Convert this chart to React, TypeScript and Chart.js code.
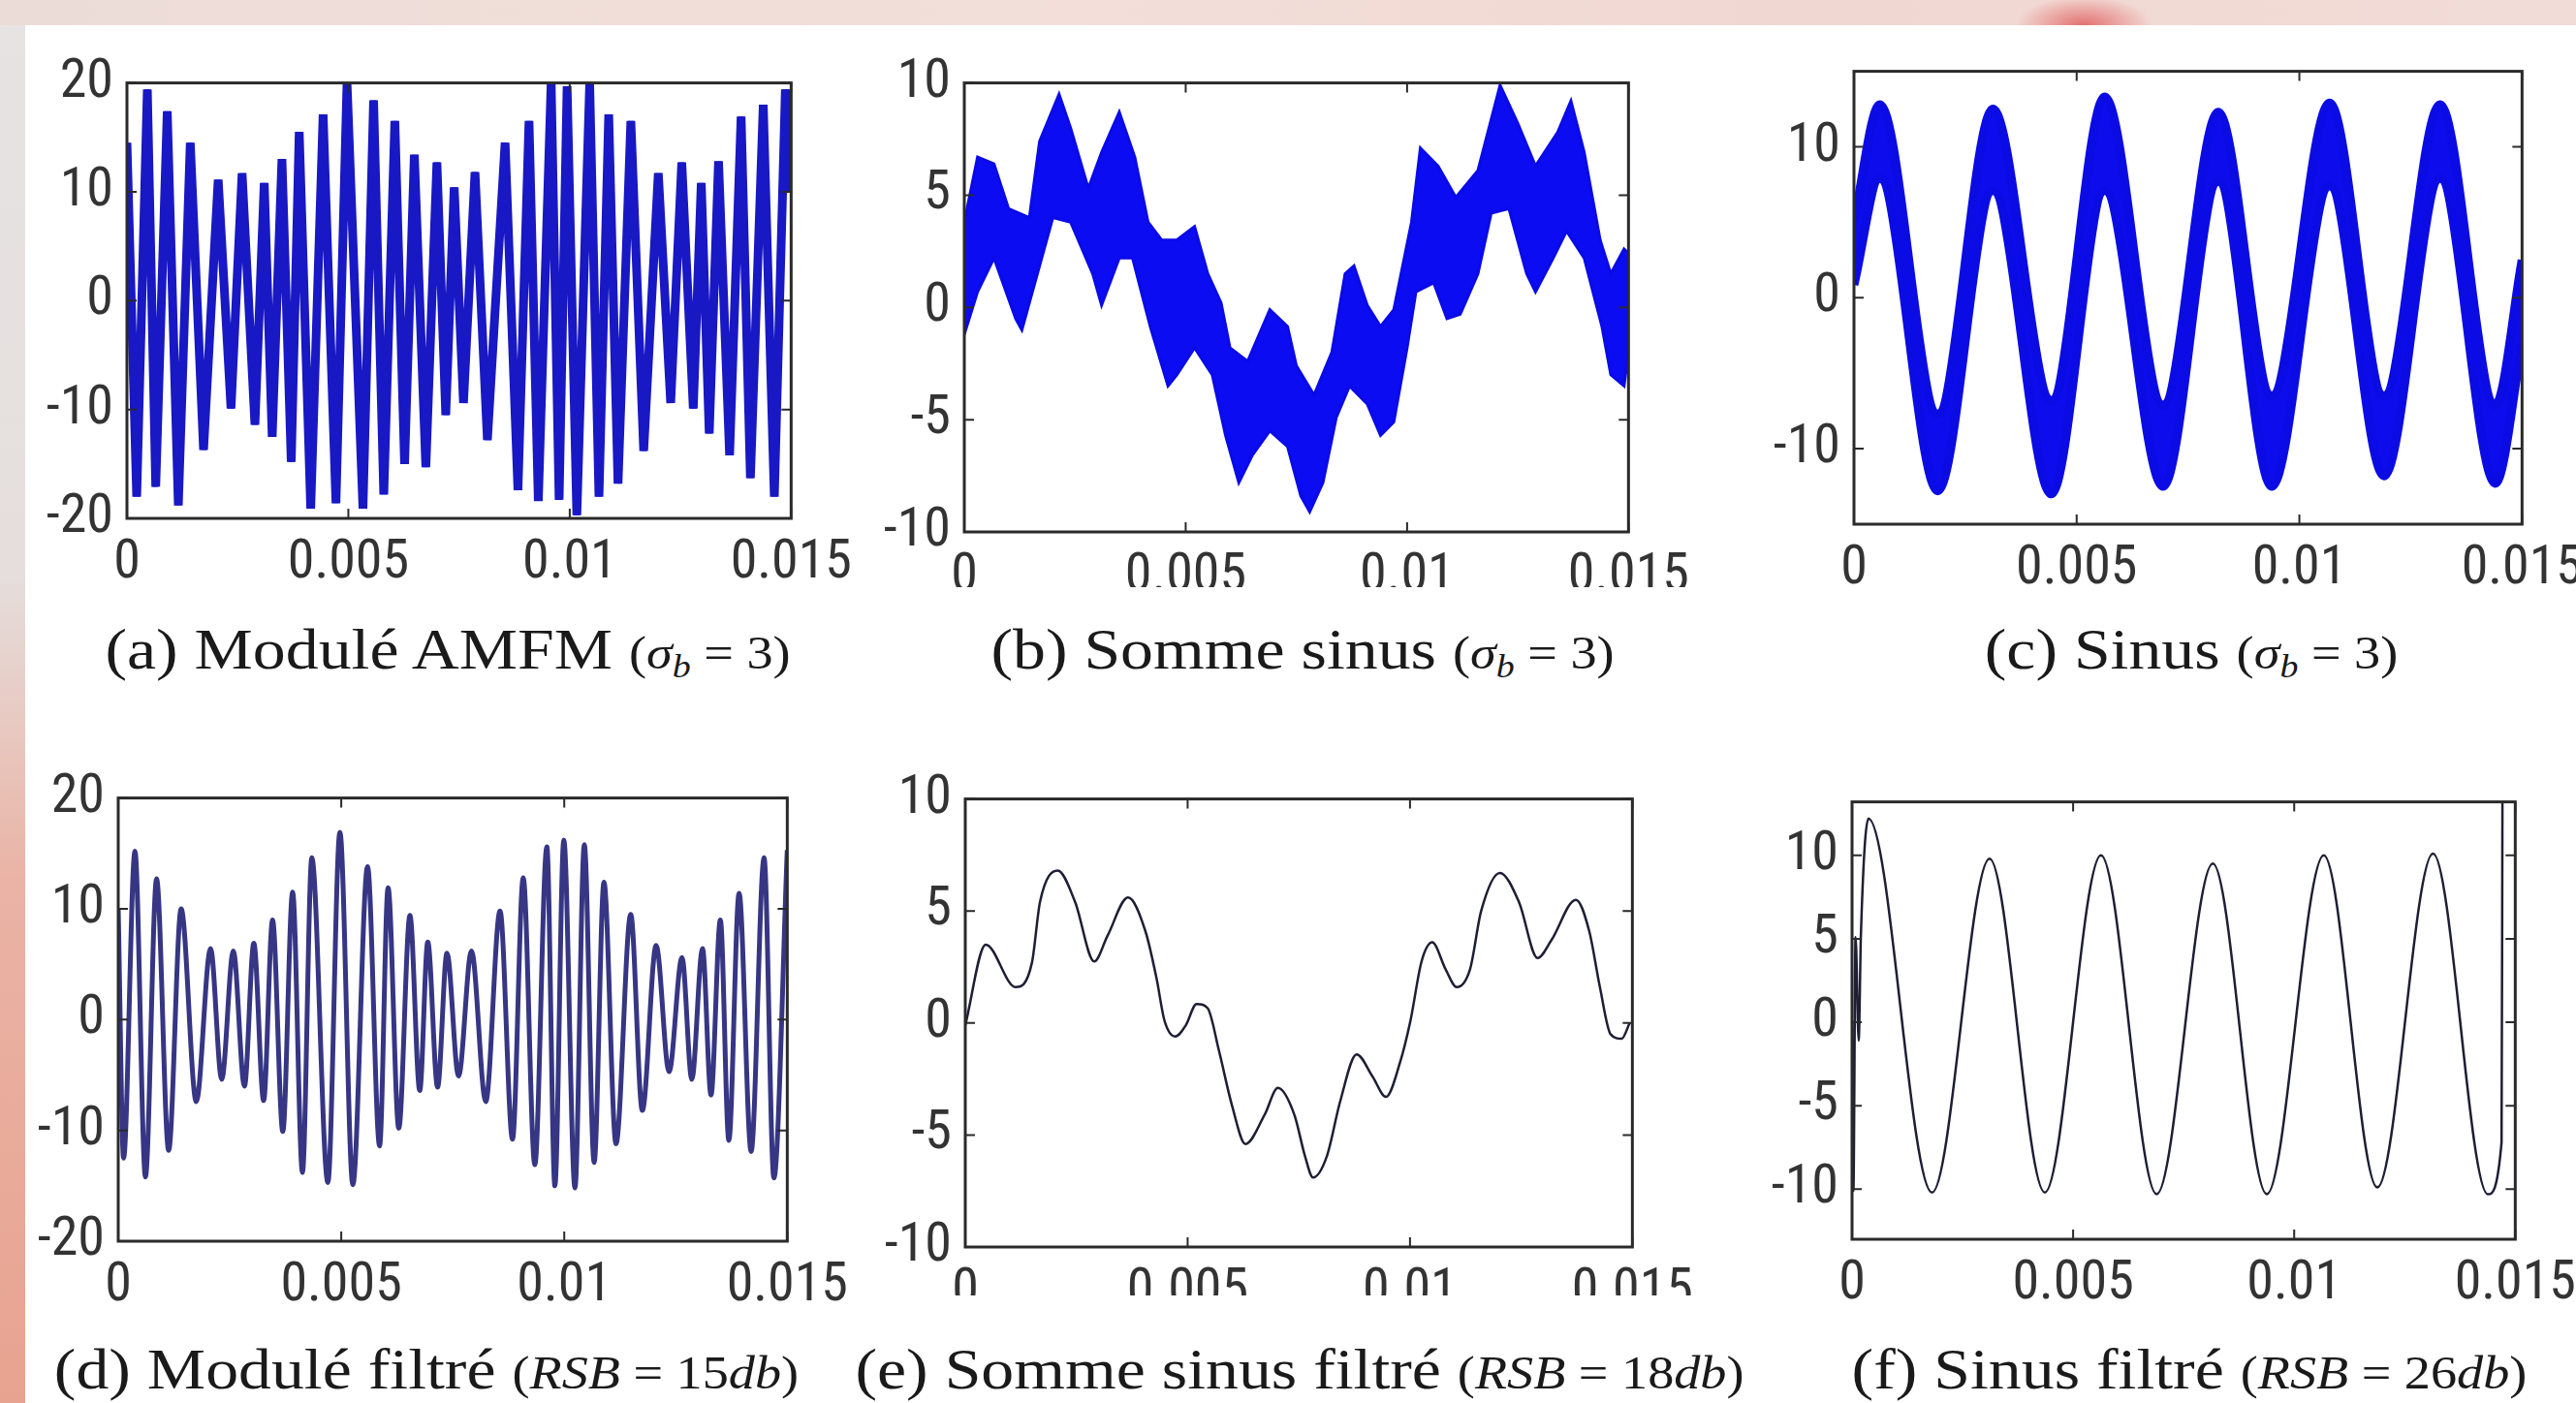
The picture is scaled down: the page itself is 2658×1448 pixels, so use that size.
import React, { useEffect, useRef } from 'react';
import { Chart, registerables } from 'chart.js';

Chart.register(...registerables);

// ---------- shared axis data ----------
const X_TICKS = [0, 0.005, 0.01, 0.015];
const X_TICK_LABELS = ['0', '0.005', '0.01', '0.015'];
const Y_TICKS_20 = [-20, -10, 0, 10, 20];
const Y_TICKS_10 = [-10, -5, 0, 5, 10];
const Y_TICKS_C = [-10, 0, 10];

// ---------- (a) Modulé AMFM (noisy) : time in ms, value ----------
const A_T_MS = [0, 0.22, 0.46, 0.65, 0.91, 1.16, 1.43, 1.73, 2.06, 2.35, 2.6, 2.89, 3.1, 3.28, 3.5, 3.71, 3.89, 4.15, 4.43, 4.72, 4.97, 5.33, 5.57, 5.8, 6.05, 6.27, 6.49, 6.75, 7.0, 7.2, 7.39, 7.6, 7.86, 8.14, 8.54, 8.83, 9.08, 9.29, 9.58, 9.76, 9.94, 10.16, 10.45, 10.66, 10.88, 11.09, 11.38, 11.67, 12.0, 12.28, 12.53, 12.79, 12.97, 13.15, 13.36, 13.61, 13.87, 14.08, 14.37, 14.62, 14.87, 15.0];
const A_VAL = [14.5, -18, 19.4, -17.1, 17.4, -18.8, 14.5, -13.7, 11.1, -9.9, 11.7, -11.4, 10.8, -12.5, 13, -14.8, 15.5, -19.1, 17.1, -18.6, 20, -19.1, 18.4, -17.8, 16.5, -15, 13.4, -15.3, 12.7, -10.5, 10.4, -9.4, 11.8, -12.8, 14.5, -17.4, 16.5, -18.4, 20, -18.3, 19.7, -19.7, 19.9, -18, 17.1, -16.8, 16.5, -13.8, 11.7, -9.4, 12.7, -9.9, 10.8, -12.2, 12.8, -14.2, 16.9, -16.3, 18, -18, 19.4, 10];

// ---------- (b) Somme sinus (noisy band: upper / lower envelopes) ----------
const B_UP_T_MS = [0, 0.3, 0.67, 1.0, 1.47, 1.7, 2.14, 2.4, 2.8, 3.1, 3.5, 3.85, 4.15, 4.46, 4.8, 5.2, 5.5, 5.8, 6.0, 6.4, 6.9, 7.3, 7.5, 7.9, 8.3, 8.6, 8.8, 9.1, 9.4, 9.7, 10.1, 10.3, 10.7, 11.1, 11.6, 12.1, 12.5, 12.9, 13.4, 13.7, 14.0, 14.36, 14.6, 14.9, 15];
const B_UP = [3.8, 6.7, 6.4, 4.4, 4.0, 7.4, 9.5, 8.0, 5.3, 6.9, 8.7, 6.7, 3.8, 3.0, 3.0, 3.6, 1.5, 0.2, -1.8, -2.4, -0.1, -0.85, -2.6, -3.9, -2.0, 1.5, 1.85, 0.1, -0.85, -0.1, 3.8, 7.1, 6.3, 4.9, 6.1, 9.9, 8.2, 6.3, 7.8, 9.2, 6.9, 3.0, 1.5, 2.6, 2.4];
const B_LO_T_MS = [0, 0.3, 0.67, 1.16, 1.3, 1.65, 2.0, 2.4, 2.9, 3.1, 3.5, 3.8, 4.2, 4.6, 4.8, 5.2, 5.6, 5.9, 6.2, 6.5, 6.9, 7.3, 7.6, 7.8, 8.1, 8.4, 8.7, 9.1, 9.4, 9.7, 10.0, 10.2, 10.6, 10.9, 11.2, 11.6, 11.9, 12.3, 12.7, 12.9, 13.3, 13.6, 14.0, 14.4, 14.6, 14.9, 15];
const B_LO = [-1.2, 0.7, 2.2, -0.5, -1.0, 1.5, 4.0, 3.8, 1.5, 0.1, 2.2, 2.2, -0.85, -3.5, -3.0, -1.8, -3.0, -5.7, -7.8, -6.6, -5.5, -6.2, -8.4, -9.1, -7.8, -4.9, -3.5, -4.3, -5.7, -5.1, -1.8, 0.7, 1.1, -0.5, -0.3, 1.5, 4.2, 4.4, 1.5, 0.7, 2.2, 3.4, 2.2, -0.85, -3.0, -3.5, -2.0];

// ---------- (c) Sinus (noisy band) ----------
const C_T_MS = [0, 0.58, 1.88, 3.12, 4.43, 5.63, 6.94, 8.18, 9.38, 10.68, 11.9, 13.16, 14.4, 15];
const C_UP = [5.1, 12.8, -7.7, 12.5, -6.8, 13.3, -7.1, 12.3, -6.5, 12.9, -6.5, 12.8, -7.1, 2.5];
const C_LO = [0.85, 7.9, -12.8, 7.1, -13.0, 7.1, -12.5, 7.7, -12.5, 7.4, -11.8, 7.9, -12.3, -3.1];

// ---------- (d) Modulé filtré ----------
const D_T_MS = [0, 0.12, 0.375, 0.61, 0.86, 1.13, 1.41, 1.75, 2.07, 2.32, 2.58, 2.83, 3.04, 3.26, 3.46, 3.69, 3.91, 4.13, 4.34, 4.7, 4.97, 5.26, 5.59, 5.86, 6.05, 6.29, 6.54, 6.76, 6.94, 7.16, 7.37, 7.63, 7.92, 8.24, 8.56, 8.84, 9.08, 9.34, 9.61, 9.79, 9.99, 10.24, 10.45, 10.67, 10.89, 11.16, 11.49, 11.75, 12.06, 12.35, 12.64, 12.86, 13.1, 13.29, 13.5, 13.69, 13.92, 14.19, 14.48, 14.7, 15.0];
const D_VAL = [10, -12.5, 15.2, -14.2, 12.7, -11.8, 10.0, -7.4, 6.4, -5.4, 6.2, -6.0, 6.9, -7.3, 9.0, -10.1, 11.5, -13.8, 14.6, -14.7, 16.9, -14.9, 13.8, -11.4, 11.9, -9.8, 9.4, -6.4, 7.0, -6.1, 6.0, -5.1, 6.2, -7.4, 9.8, -10.8, 12.8, -13.1, 15.6, -15.0, 16.2, -15.2, 15.8, -12.9, 12.4, -11.2, 9.5, -8.2, 6.7, -4.7, 5.6, -5.4, 6.4, -6.8, 9.0, -10.9, 11.4, -11.9, 14.6, -14.3, 15.3];

// ---------- (e) Somme sinus filtré ----------
const E_T_MS = [0, 0.46, 1.13, 1.5, 1.68, 2.08, 2.47, 2.9, 3.2, 3.66, 4.05, 4.3, 4.48, 4.72, 4.96, 5.2, 5.45, 5.7, 6.0, 6.3, 6.73, 7.03, 7.4, 7.64, 7.82, 8.13, 8.43, 8.8, 9.16, 9.46, 9.77, 10.01, 10.26, 10.5, 10.8, 11.05, 11.35, 11.6, 12.02, 12.45, 12.87, 13.18, 13.73, 14.03, 14.27, 14.51, 14.76, 14.94];
const E_VAL = [-0.1, 3.5, 1.6, 2.7, 5.4, 6.8, 5.4, 2.75, 3.9, 5.6, 4.1, 2.0, 0.1, -0.6, -0.1, 0.85, 0.66, -1.2, -3.7, -5.4, -4.1, -2.9, -4.1, -5.95, -6.9, -5.95, -3.5, -1.4, -2.4, -3.3, -1.8, 0.1, 2.75, 3.6, 2.4, 1.6, 2.4, 5.0, 6.7, 5.4, 2.9, 3.7, 5.5, 4.1, 1.6, -0.5, -0.7, 0];

// ---------- (f) Sinus filtré ----------
const F_T_MS = [0, 0.03, 0.08, 0.15, 0.2, 0.37, 1.81, 3.11, 4.36, 5.63, 6.89, 8.16, 9.38, 10.67, 11.88, 13.14, 14.38, 14.69, 14.71];
const F_VAL = [0.1, -10.1, 5.1, -1.1, 5.2, 12.2, -10.2, 9.8, -10.2, 10.0, -10.3, 9.5, -10.3, 10.0, -9.9, 10.1, -10.3, -7.2, 13.3];

// ---------- captions ----------
const CAPTIONS = [
  { label: '(a) Modulé AMFM', kind: 'sigma', val: '3', cx: 462, cy: 679 },
  { label: '(b) Somme sinus', kind: 'sigma', val: '3', cx: 1344, cy: 679 },
  { label: '(c) Sinus', kind: 'sigma', val: '3', cx: 2261, cy: 679 },
  { label: '(d) Modulé filtré', kind: 'rsb', val: '15', cx: 440, cy: 1415 },
  { label: '(e) Somme sinus filtré', kind: 'rsb', val: '18', cx: 1341, cy: 1415 },
  { label: '(f) Sinus filtré', kind: 'rsb', val: '26', cx: 2259, cy: 1415 },
];

const toPts = (tMs: number[], v: number[]) => tMs.map((t, i) => ({ x: t / 1000, y: v[i] }));

// pick a condensed sans for tick labels if one is installed
function pickTickFont() {
  const ctx = document.createElement('canvas').getContext('2d');
  const probe = '0.005 -10 20';
  const candidates = ['Liberation Sans Narrow', 'Roboto Condensed', 'DejaVu Sans Condensed', 'Arial Narrow'];
  if (ctx) {
    for (const fam of candidates) {
      ctx.font = '56px monospace';
      const w1 = ctx.measureText(probe).width;
      ctx.font = `56px "${fam}", monospace`;
      const w2 = ctx.measureText(probe).width;
      if (Math.abs(w1 - w2) > 1) return { family: `"${fam}", sans-serif`, size: 56 };
    }
  }
  return { family: '"Liberation Sans", Arial, sans-serif', size: 44 };
}

const TICK_COLOR = '#333333';
const Y_W = 130;
const PAD_T = 34;
const PAD_R = 72;

const frameTicks = {
  id: 'frameTicks',
  afterDatasetsDraw(chart: any) {
    const { ctx, chartArea, scales } = chart;
    const { left, right, top, bottom } = chartArea;
    const len = 10;
    ctx.save();
    ctx.strokeStyle = '#2a2a2a';
    ctx.lineWidth = 2;
    ctx.beginPath();
    scales.x.ticks.forEach((t: any) => {
      const px = scales.x.getPixelForValue(t.value);
      ctx.moveTo(px, bottom); ctx.lineTo(px, bottom - len);
      ctx.moveTo(px, top); ctx.lineTo(px, top + len);
    });
    scales.y.ticks.forEach((t: any) => {
      const py = scales.y.getPixelForValue(t.value);
      ctx.moveTo(left, py); ctx.lineTo(left + len, py);
      ctx.moveTo(right, py); ctx.lineTo(right - len, py);
    });
    ctx.stroke();
    ctx.lineWidth = 3;
    ctx.strokeRect(left, top, right - left, bottom - top);
    ctx.restore();
  },
};

type Spec = {
  key: string; L: number; R: number; T: number; B: number; xh: number;
  yMin: number; yMax: number; yTicks: number[]; datasets: any[];
};

const line = (data: any[], color: string, width: number, extra: any = {}) => ({
  data, borderColor: color, backgroundColor: color, borderWidth: width,
  pointRadius: 0, fill: false, clip: 0, tension: 0, ...extra,
});

const SPECS: Spec[] = [
  {
    key: 'a', L: 131, R: 820, T: 72, B: 535, xh: 80, yMin: -20, yMax: 20, yTicks: Y_TICKS_20,
    datasets: [
      line(toPts(A_T_MS, A_VAL), '#1818c4', 9),
      line(toPts(A_T_MS, A_VAL), '#0000ff', 6),
    ],
  },
  {
    key: 'b', L: 995, R: 1684, T: 72, B: 549, xh: 57, yMin: -10, yMax: 10, yTicks: Y_TICKS_10,
    datasets: [
      line(toPts(B_UP_T_MS, B_UP), '#0a0ae8', 3),
      line(toPts(B_LO_T_MS, B_LO), '#0a0ae8', 3, { fill: '-1', backgroundColor: '#0c0cf2' }),
    ],
  },
  {
    key: 'c', L: 1913, R: 2606, T: 60, B: 541, xh: 80, yMin: -15, yMax: 15, yTicks: Y_TICKS_C,
    datasets: [
      line(toPts(C_T_MS, C_UP), '#0b0be4', 9, { cubicInterpolationMode: 'monotone' }),
      line(toPts(C_T_MS, C_LO), '#0b0be4', 9, { cubicInterpolationMode: 'monotone', fill: '-1', backgroundColor: '#0c0cec' }),
    ],
  },
  {
    key: 'd', L: 122, R: 816, T: 810, B: 1281, xh: 80, yMin: -20, yMax: 20, yTicks: Y_TICKS_20,
    datasets: [
      line(toPts(D_T_MS, D_VAL), '#363684', 5, { cubicInterpolationMode: 'monotone' }),
      line(toPts(D_T_MS, D_VAL), '#b0b0e6', 2.5, { cubicInterpolationMode: 'monotone' }),
    ],
  },
  {
    key: 'e', L: 996, R: 1688, T: 811, B: 1287, xh: 50, yMin: -10, yMax: 10, yTicks: Y_TICKS_10,
    datasets: [line(toPts(E_T_MS, E_VAL), '#1e1e34', 2.5, { cubicInterpolationMode: 'monotone' })],
  },
  {
    key: 'f', L: 1911, R: 2599, T: 814, B: 1279, xh: 80, yMin: -13, yMax: 13.2, yTicks: Y_TICKS_10,
    datasets: [line(toPts(F_T_MS, F_VAL), '#1e1e34', 2.5, { cubicInterpolationMode: 'monotone' })],
  },
];

function Panel({ spec }: { spec: Spec }) {
  const ref = useRef<HTMLCanvasElement>(null);
  const w = spec.R - spec.L + Y_W + PAD_R;
  const h = spec.B - spec.T + PAD_T + spec.xh;
  useEffect(() => {
    const tickFont = pickTickFont();
    const chart = new Chart(ref.current as HTMLCanvasElement, {
      type: 'line',
      data: { datasets: spec.datasets },
      options: {
        animation: false,
        responsive: false,
        maintainAspectRatio: false,
        devicePixelRatio: 1,
        layout: { padding: { top: PAD_T, right: PAD_R, left: 0, bottom: 0 } },
        plugins: { legend: { display: false }, tooltip: { enabled: false } },
        elements: { point: { radius: 0 } },
        scales: {
          x: {
            type: 'linear', min: 0, max: 0.015,
            afterBuildTicks: (s: any) => { s.ticks = X_TICKS.map((v) => ({ value: v })); },
            afterFit: (s: any) => { s.height = spec.xh; },
            grid: { display: false, drawTicks: false },
            border: { display: false },
            ticks: {
              font: tickFont, color: TICK_COLOR, padding: 13, maxRotation: 0, autoSkip: false,
              callback: (_v: any, i: number) => X_TICK_LABELS[i],
            },
          },
          y: {
            type: 'linear', min: spec.yMin, max: spec.yMax,
            afterBuildTicks: (s: any) => { s.ticks = spec.yTicks.map((v) => ({ value: v })); },
            afterFit: (s: any) => { s.width = Y_W; },
            grid: { display: false, drawTicks: false },
            border: { display: false },
            ticks: {
              font: tickFont, color: TICK_COLOR, padding: 14, autoSkip: false,
              callback: (v: any) => String(v),
            },
          },
        },
      } as any,
      plugins: [frameTicks],
    });
    return () => chart.destroy();
  }, []);
  return (
    <canvas
      ref={ref}
      width={w}
      height={h}
      style={{ position: 'absolute', left: spec.L - Y_W, top: spec.T - PAD_T, width: w, height: h }}
    />
  );
}

function Caption({ c }: { c: (typeof CAPTIONS)[number] }) {
  return (
    <div
      style={{
        position: 'absolute', left: c.cx, top: c.cy, transform: 'translate(-50%, -50%) scaleX(1.13)',
        whiteSpace: 'nowrap', fontFamily: '"Liberation Serif", "Times New Roman", serif', fontSize: 60,
        lineHeight: '60px', color: '#1a1a1a',
      }}
    >
      {c.label}{' '}
      <span style={{ fontSize: '0.8em' }}>
        {c.kind === 'sigma' ? (
          <>(<i>σ</i><sub style={{ fontSize: '0.7em', verticalAlign: '-0.25em' }}><i>b</i></sub> = {c.val})</>
        ) : (
          <>(<i>RSB</i> = {c.val}<i>db</i>)</>
        )}
      </span>
    </div>
  );
}

export default function App() {
  return (
    <div style={{ position: 'fixed', left: 0, top: 0, width: 2658, height: 1448, overflow: 'hidden', background: '#ffffff' }}>
      <div
        style={{
          position: 'absolute', left: 0, top: 0, width: 2658, height: 26,
          background:
            'radial-gradient(ellipse 70px 30px at 2150px 26px, rgba(225,95,95,0.85), rgba(225,95,95,0) 100%), linear-gradient(to right, #ecdcd7, #f3dfda 40%, #f1d7d1 70%, #f2dcd7)',
        }}
      />
      <div
        style={{
          position: 'absolute', left: 0, top: 26, width: 26, height: 1422,
          background: 'linear-gradient(to bottom, #e6e3e2 0%, #e5dedc 40%, #eab3a5 62%, #e8a390 100%)',
        }}
      />
      {SPECS.map((s) => (
        <Panel key={s.key} spec={s} />
      ))}
      {CAPTIONS.map((c, i) => (
        <Caption key={i} c={c} />
      ))}
    </div>
  );
}
